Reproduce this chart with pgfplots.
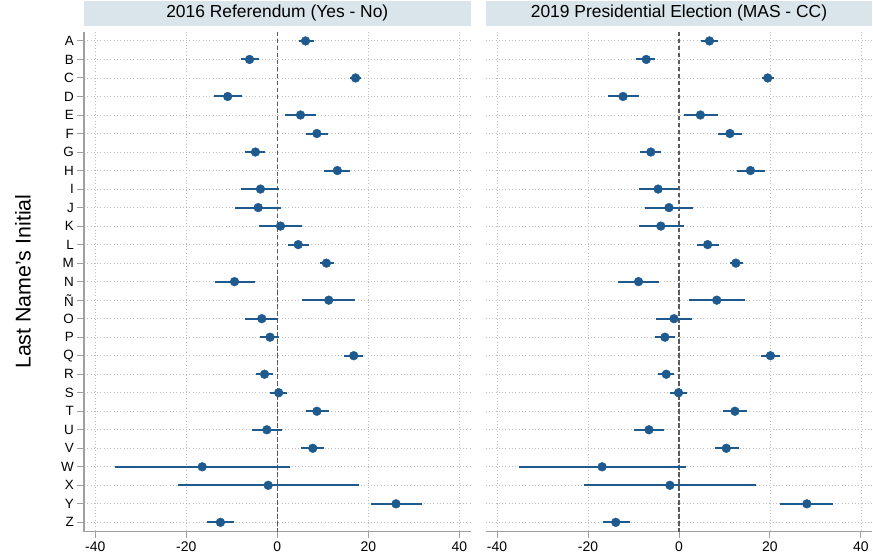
\documentclass[border=0pt]{standalone}
\usepackage{pgfplots}
\usepackage{pgfplotstable}
\pgfplotsset{compat=1.18}
\usepackage{fontspec}
\setmainfont{Liberation Sans}

\definecolor{dotblue}{RGB}{31,90,143}
\definecolor{hdr}{RGB}{217,229,234}
\definecolor{axgray}{RGB}{160,160,160}
\definecolor{gridgray}{RGB}{190,190,190}
\definecolor{zerogray}{RGB}{90,90,90}

% row  estimate  lower  upper
\pgfplotstableread{
row est lo hi
1 6.2 4.7 8.1
2 -6.1 -8.0 -4.0
3 17.2 15.9 18.5
4 -10.9 -14.0 -7.8
5 5.1 1.7 8.6
6 8.7 6.2 11.2
7 -4.8 -7.0 -2.6
8 13.2 10.3 16.0
9 -3.7 -8.0 0.4
10 -4.2 -9.3 0.9
11 0.7 -4.0 5.4
12 4.6 2.3 7.0
13 10.8 9.3 12.4
14 -9.4 -13.8 -4.8
15 11.3 5.5 17.1
16 -3.4 -7.2 0.1
17 -1.6 -3.7 0.4
18 16.8 14.7 18.9
19 -2.8 -4.6 -1.0
20 0.3 -1.5 2.1
21 8.7 6.2 11.4
22 -2.3 -5.5 1.1
23 7.8 5.3 10.3
24 -16.5 -35.6 2.9
25 -2.0 -21.8 17.9
26 26.1 20.5 31.8
27 -12.5 -15.5 -9.5
}\refdata

\pgfplotstableread{
row est lo hi
1 6.7 4.9 8.5
2 -7.2 -9.4 -5.2
3 19.5 18.2 20.9
4 -12.3 -15.6 -8.9
5 4.7 1.0 8.5
6 11.2 8.6 13.8
7 -6.2 -8.5 -4.0
8 15.7 12.7 18.8
9 -4.6 -8.9 -0.3
10 -2.2 -7.5 3.1
11 -4.0 -8.8 1.0
12 6.3 4.0 8.7
13 12.5 11.1 14.1
14 -8.9 -13.5 -4.4
15 8.3 2.3 14.5
16 -1.1 -5.1 2.8
17 -3.1 -5.2 -0.9
18 20.1 18.0 22.2
19 -2.8 -4.6 -1.0
20 -0.1 -2.0 1.7
21 12.3 9.7 14.9
22 -6.6 -9.9 -3.3
23 10.4 7.9 13.1
24 -16.9 -35.1 1.5
25 -2.0 -20.9 17.0
26 28.1 22.3 33.9
27 -13.9 -16.8 -10.8
}\elecdata

\pgfplotsset{
  panel/.style={
    scale only axis,
    width=387bp, height=500.3bp,
    xmin=-42.5, xmax=42.5,
    ymin=0.5, ymax=27.5,
    y dir=reverse,
    xtick={-40,-20,0,20,40},
    ytick={1,...,27},
    axis x line*=bottom, axis y line*=left,
    axis line style={-, axgray, line width=1.3bp},
    tick align=outside,
    major tick length=6.5bp,
    tick style={axgray, line width=1bp},
    xmajorgrids, ymajorgrids,
    grid style={gridgray, line width=0.9bp, dash pattern=on 0.9bp off 2.4bp},
    /pgf/number format/assume math mode=true,
    xticklabel style={font=\fontsize{14}{16}\selectfont},
    yticklabel style={font=\fontsize{13.5}{15}\selectfont},
    title style={at={(0.5,1)}, anchor=south, yshift=0pt, fill=hdr,
      minimum width=387bp, minimum height=24.5bp, inner sep=0pt,
      font=\fontsize{17.5}{20}\selectfont},
  },
  ci/.style={
    only marks, mark=*, mark size=4.4bp,
    mark options={fill=dotblue, draw=dotblue},
    error bars/.cd, x dir=both, x explicit, error mark=none,
    error bar style={line width=2bp, dotblue},
  },
}

\begin{document}
\begin{tikzpicture}
  \path (-84bp,-27bp) rectangle (789bp,532bp);

  \begin{axis}[panel,
    title={2016 Referendum (Yes - No)},
    yticklabels={A,B,C,D,E,F,G,H,I,J,K,L,M,N,Ñ,O,P,Q,R,S,T,U,V,W,X,Y,Z},
    ylabel={Last Name's Initial},
    ylabel style={at={(axis description cs:0,0.5)}, anchor=center,
      yshift=61bp, font=\fontsize{21.5}{23}\selectfont},
  ]
    \addplot[zerogray, line width=1.1bp, dash pattern=on 4.5bp off 2.5bp]
      coordinates {(0,0.5) (0,27.5)};
    \addplot[ci] table[x=est, y=row,
      x error plus expr=\thisrow{hi}-\thisrow{est},
      x error minus expr=\thisrow{est}-\thisrow{lo}] {\refdata};
  \end{axis}

  \begin{axis}[panel, at={(402bp,0)},
    title={2019 Presidential Election (MAS - CC)},
    yticklabels={},
    y axis line style={draw=none},
    ytick style={draw=none},
  ]
    \addplot[zerogray, line width=1.1bp, dash pattern=on 4.5bp off 2.5bp]
      coordinates {(0,0.5) (0,27.5)};
    \addplot[ci] table[x=est, y=row,
      x error plus expr=\thisrow{hi}-\thisrow{est},
      x error minus expr=\thisrow{est}-\thisrow{lo}] {\elecdata};
  \end{axis}
\end{tikzpicture}
\end{document}
